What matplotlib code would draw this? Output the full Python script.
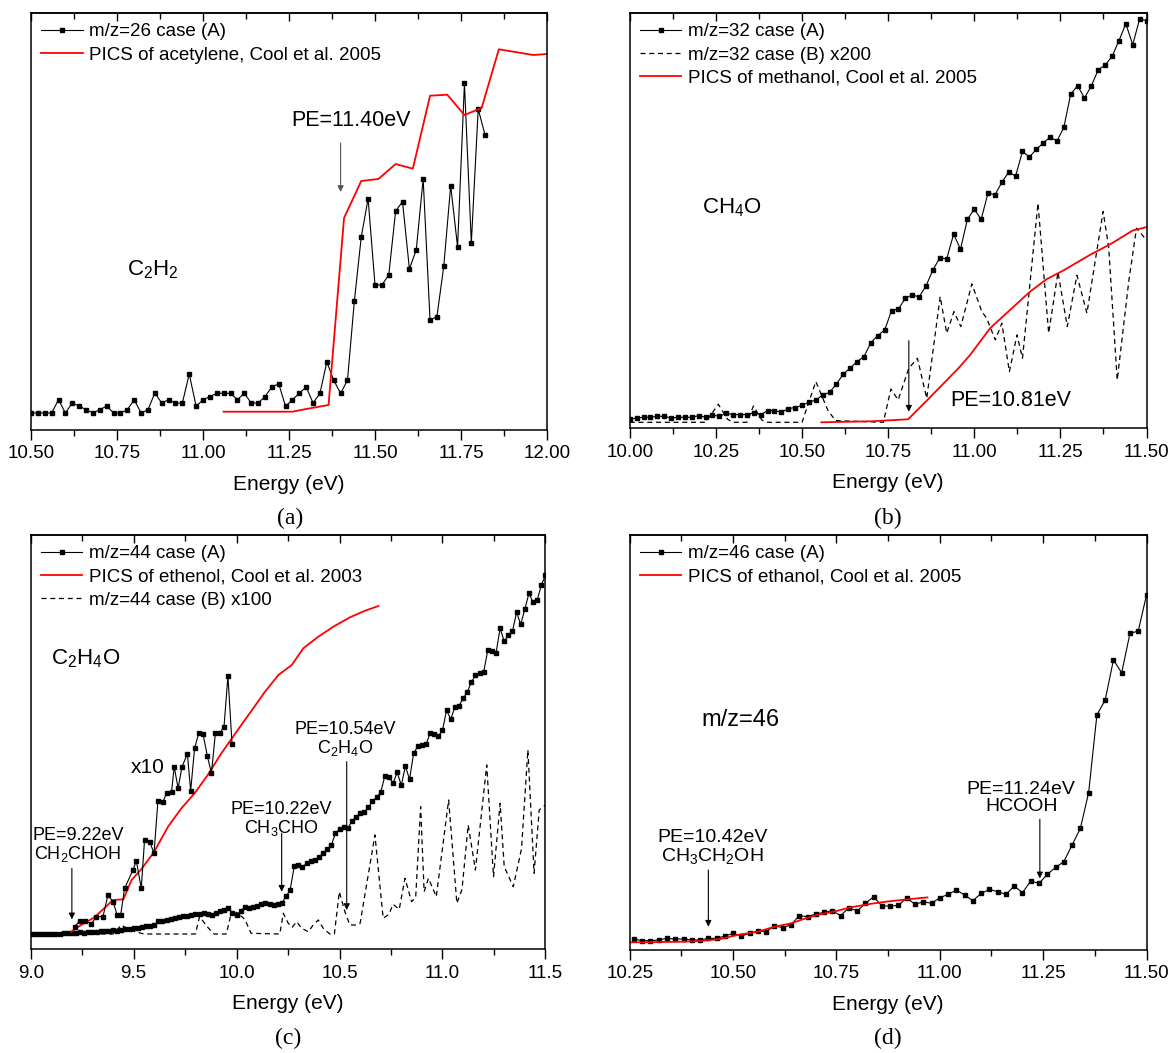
import numpy as np
import matplotlib
matplotlib.use("Agg")
import matplotlib.pyplot as plt
from matplotlib.ticker import MultipleLocator, FormatStrFormatter

plt.rcParams['font.family'] = ['Liberation Sans', 'DejaVu Sans']
plt.rcParams['mathtext.fontset'] = 'custom'
plt.rcParams['mathtext.rm'] = 'Liberation Sans'
plt.rcParams['mathtext.it'] = 'Liberation Sans:italic'

# ---------------- Panel (a): m/z=26 ----------------
a_start, a_step = 10.50, 0.02
a_caseA = [17, 17, 17, 17, 30.3, 17, 27, 24, 20.3, 17, 20.3, 24, 17, 17, 20.3, 30.3, 17, 20.3,
           37, 27, 30.3, 27, 27, 56, 23.7,
           30.3, 33.3, 36.7, 36.7, 36.7, 30.3, 36.7, 27, 27, 33.3, 43, 46.3, 23.7, 30.3, 36.7,
           43, 27, 36.7, 68, 49.7, 36.7, 49.7, 129, 193, 231.3, 145, 145, 155, 219, 228.3, 161,
           180.3, 251, 110, 113.3, 164, 244.3, 183.3, 346.7, 187, 321, 295]
a_pics_x = [11.06, 11.26, 11.30, 11.365, 11.41, 11.46, 11.51, 11.56, 11.61, 11.66, 11.71,
            11.76, 11.81, 11.86, 11.96, 12.00]
a_pics_y = [18.3, 18.3, 21, 25, 212, 249, 251, 266, 261.3, 334.3, 335.3, 315, 322, 380.7, 375, 376]

# ---------------- Panel (b): m/z=32 ----------------
b_start, b_step = 10.00, 0.02
b_caseA = [9, 10.3, 11, 11, 12, 12, 10.3, 11, 11, 11, 12.7, 11, 13.3, 12, 15, 13.7, 13.7, 13.7,
           15.7, 13.3, 17.7, 17.7, 16, 19.7, 20.7, 23, 26, 28.3, 33.3, 36, 44.3, 54.3, 60.3, 66.7,
           71.7, 85.7, 92.7, 98.3, 117.7, 119.3, 130, 133.3, 131.3, 142.3, 158.3, 170.3, 169.3,
           194, 179, 208.7, 219, 208.7, 235.3, 233.3, 245.7, 256, 252, 276.7, 271, 278.7, 285,
           291, 287, 300.7, 334, 342.3, 330, 342.3, 358.3, 363, 371.7, 387.3, 404.3, 383.3, 409,
           407.3]
b_caseB_x = [10.00, 10.22, 10.257, 10.284, 10.30, 10.34, 10.359, 10.383, 10.40, 10.50, 10.54,
             10.575, 10.597, 10.736, 10.758, 10.779, 10.81, 10.835, 10.862, 10.901, 10.920,
             10.941, 10.961, 10.993, 11.022, 11.036, 11.061, 11.080, 11.102, 11.124, 11.14,
             11.185, 11.216, 11.243, 11.270, 11.298, 11.327, 11.374, 11.39, 11.415, 11.449,
             11.471, 11.50]
b_caseB_y = [6, 6, 24, 9, 6, 6, 22.3, 8.3, 6, 6, 46.7, 18, 7.7, 6, 39.3, 28.3, 60, 70, 30,
             131.6, 95, 116.6, 101.6, 144.3, 116.6, 110, 88.3, 105, 56.6, 93.3, 70,
             225, 95, 156, 101.7, 153, 115, 216.7, 181.7, 48.3, 148.3, 200, 188]
b_pics_x = [10.556, 10.70, 10.808, 10.862, 10.954, 10.988, 11.046, 11.104, 11.162, 11.21,
            11.258, 11.336, 11.40, 11.46, 11.50]
b_pics_y = [6, 7, 9, 27.6, 60, 73.3, 100, 118.3, 136.6, 149, 157.6, 173.3, 185, 197.7, 201]

# ---------------- Panel (c): m/z=44 ----------------
c_start, c_step = 9.00, 0.02
c_caseA = [15, 15, 15, 15, 15.5, 15.5, 15.5, 15.5, 16, 16, 16,
           16.5, 17, 16.5, 17, 17.5, 17, 18, 18.5, 18, 19, 18.5, 19.5, 20.5, 20, 21,
           21.5, 22, 23, 23.5, 24, 28, 28.5, 29.5, 30.5, 31.5,
           32, 33, 33.5, 34, 35, 35.5, 36.5, 35, 34, 36.5,
           38, 39, 41, 36, 34.5, 38, 42.5, 41.5, 42, 43,
           45, 46, 45, 44.5, 45, 46, 53, 59, 83, 84,
           82, 86, 88, 89, 92, 96, 100, 104, 116, 120,
           122, 121, 128, 132, 136, 137, 142, 148, 152, 157,
           173, 172, 166, 177, 164, 183, 170, 196, 203, 204,
           205, 216, 215, 213, 219, 239, 230, 242, 243, 251,
           257, 267, 274, 276, 277, 299, 298, 296, 321, 308,
           314, 318, 337, 325, 340, 356, 347, 349, 364, 374]
c_x10_x = [9.214, 9.238, 9.262, 9.294, 9.319, 9.351, 9.375, 9.40, 9.42, 9.437, 9.456, 9.497,
           9.513, 9.537, 9.553, 9.578, 9.599, 9.618, 9.643, 9.66, 9.684, 9.697, 9.716, 9.735,
           9.761, 9.777, 9.796, 9.816, 9.837, 9.858, 9.878, 9.897, 9.918, 9.939, 9.958, 9.978]
c_x10_y = [22.6, 28.6, 28.6, 25.3, 32.6, 32.6, 54, 47.6, 34.3, 34.3, 61, 79.3, 88.6, 61, 109.3,
           107.6, 96, 148.6, 147.6, 156.6, 157, 182.6, 161, 182.6, 195.3, 158.6, 201, 216,
           215.3, 193.3, 176, 216, 216, 222.6, 273.3, 205]
c_pics_x = [9.197, 9.245, 9.31, 9.40, 9.45, 9.49, 9.537, 9.60, 9.667, 9.732, 9.796, 9.86,
            9.926, 10.017, 10.081, 10.138, 10.203, 10.268, 10.324, 10.397, 10.47, 10.551,
            10.624, 10.689]
c_pics_y = [17.6, 24.3, 32, 49.3, 50, 69.3, 80, 97.6, 122.6, 141, 156, 174.3, 196, 222.6,
            241, 257.6, 274.3, 284.3, 301, 312.6, 322.6, 332, 338.6, 343.3]
c_caseB_x = [9.00, 9.40, 9.44, 9.48, 9.55, 9.80, 9.82, 9.86, 9.89, 9.95, 9.97, 10.00, 10.04,
             10.07, 10.21, 10.227, 10.251, 10.27, 10.292, 10.316, 10.348, 10.375, 10.397,
             10.421, 10.453, 10.475, 10.499, 10.526, 10.55, 10.58, 10.60, 10.672, 10.712,
             10.74, 10.76, 10.79, 10.818, 10.85, 10.87, 10.894, 10.911, 10.932, 10.97, 11.03,
             11.07, 11.095, 11.125, 11.16, 11.215, 11.248, 11.28, 11.30, 11.344, 11.384,
             11.415, 11.445, 11.47, 11.50]
c_caseB_y = [15.3, 15.3, 24.3, 19.3, 15.3, 15.3, 32.6, 22, 15.3, 15.3, 32.6, 37, 30, 16, 15.3,
             36, 26, 22, 27.6, 21, 17.6, 25, 29.3, 21, 15.3, 15.3, 57.6, 37.6, 24.3, 24.3, 26,
             114.3, 31, 35, 45, 40, 71, 47.6, 52, 142.6, 57.6, 71, 52.6, 149.3, 46, 60, 124.3,
             79.3, 184.3, 72.6, 146, 82.6, 62.6, 100.6, 199.3, 76, 139.3, 144.3]

# ---------------- Panel (d): m/z=46 ----------------
d_start, d_step = 10.26, 0.02
d_caseA = [11, 9.3, 9.3, 10, 11.6, 11, 11, 10, 10, 11.6, 11.6, 14, 16.6, 14, 16.6, 19, 18.3,
           24.3, 22.3, 25.3, 34.3, 33.3, 36, 37.6, 39.3, 34.3, 42.3, 39, 46.6, 53.3, 44, 44,
           44.6, 52.3, 45.6, 48.3, 46.6,
           52.3, 55.6, 60, 55, 49.3, 56.6, 60.6, 58.3, 55.6, 64, 57.3, 69, 66.6, 75.6, 82.6,
           88.3, 105, 121.6, 157.3, 235, 250, 290, 277.3, 316.6, 319, 355]
d_pics_x = [10.25, 10.38, 10.42, 10.47, 10.51, 10.56, 10.60, 10.64, 10.675, 10.71, 10.75,
            10.78, 10.83, 10.87, 10.92, 10.97]
d_pics_y = [7.6, 8.3, 9, 11, 15, 18.3, 23.3, 26.6, 31.6, 35.6, 39, 42.3, 46, 48.3, 50.6, 52.6]


def grid(start, step, vals):
    return start + step * np.arange(len(vals))


W, H = 1172, 1053
fig = plt.figure(figsize=(W / 100, H / 100), dpi=100)


def make_ax(left, top, right, bottom):
    return fig.add_axes([left / W, 1 - bottom / H, (right - left) / W, (bottom - top) / H])


TICK_FS = 13.5
LAB_FS = 15
LEG_FS = 13.5
CAP_FS = 17


def style(ax, xlim, ylim, major, minor, fmt):
    ax.set_xlim(*xlim)
    ax.set_ylim(*ylim)
    ax.set_yticks([])
    ax.xaxis.set_major_locator(MultipleLocator(major))
    ax.xaxis.set_minor_locator(MultipleLocator(minor))
    ax.xaxis.set_major_formatter(FormatStrFormatter(fmt))
    ax.tick_params(axis='x', which='major', direction='out', length=7, width=1,
                   labelsize=TICK_FS, pad=4)
    ax.tick_params(axis='x', which='minor', direction='out', length=4, width=1)
    for s in ax.spines.values():
        s.set_linewidth(1.1)
    top = ax.secondary_xaxis('top')
    top.xaxis.set_major_locator(MultipleLocator(major))
    top.xaxis.set_minor_locator(MultipleLocator(minor))
    top.tick_params(axis='x', which='major', direction='in', length=6, width=1, labeltop=False)
    top.tick_params(axis='x', which='minor', direction='in', length=4, width=1)
    top.spines['top'].set_linewidth(1.1)
    ax.set_xlabel('Energy (eV)', fontsize=LAB_FS, labelpad=9)


def legend(ax):
    ax.legend(loc='upper left', frameon=False, fontsize=LEG_FS, handlelength=2.2,
              handletextpad=0.35, labelspacing=0.32, borderaxespad=0.25, borderpad=0.3,
              numpoints=1)


def arrow(ax, x, y0, y1, color='k'):
    ax.annotate('', xy=(x, y1), xytext=(x, y0),
                arrowprops=dict(arrowstyle='-|>', color=color, lw=0.8, mutation_scale=9,
                                shrinkA=0, shrinkB=0))


def caption(x, y, s):
    fig.text(x / W, 1 - y / H, s, fontsize=CAP_FS, family=['Liberation Serif', 'DejaVu Serif'],
             ha='center', va='center')


blk = dict(color='black', lw=0.8, marker='s', ms=3.3, mfc='black', mec='black')
red = dict(color='#ff0000', lw=1.3)
dash = dict(color='black', lw=0.9, ls=(0, (4, 3)))

# ---- (a)
ax = make_ax(31, 13, 547, 430)
ax.plot(grid(a_start, a_step, a_caseA), a_caseA, label='m/z=26 case (A)', **blk)
ax.plot(a_pics_x, a_pics_y, label='PICS of acetylene, Cool et al. 2005', **red)
style(ax, (10.5, 12.0), (0, 417), 0.25, 0.125, '%.2f')
legend(ax)
ax.text(11.43, 310, 'PE=11.40eV', fontsize=15.5, ha='center', va='center')
arrow(ax, 11.40, 287, 238, color='#555555')
ax.text(10.855, 160, r'$\mathregular{C_2H_2}$', fontsize=16, ha='center', va='center')
caption(290, 518, '(a)')

# ---- (b)
ax = make_ax(629.8, 13, 1146.5, 428.3)
ax.plot(grid(b_start, b_step, b_caseA), b_caseA, label='m/z=32 case (A)', **blk)
ax.plot(b_caseB_x, b_caseB_y, label='m/z=32 case (B) x200', **dash)
ax.plot(b_pics_x, b_pics_y, label='PICS of methanol, Cool et al. 2005', **red)
style(ax, (10.0, 11.5), (0, 415), 0.25, 0.125, '%.2f')
legend(ax)
ax.text(10.296, 220, r'$\mathregular{CH_4O}$', fontsize=16, ha='center', va='center')
ax.text(11.107, 28, 'PE=10.81eV', fontsize=15.5, ha='center', va='center')
arrow(ax, 10.81, 87.6, 16.6)
caption(888, 518, '(b)')

# ---- (c)
ax = make_ax(30.7, 535, 545.4, 949.3)
ax.plot(grid(c_start, c_step, c_caseA), c_caseA, label='m/z=44 case (A)', **blk)
ax.plot(c_pics_x, c_pics_y, label='PICS of ethenol, Cool et al. 2003', **red)
ax.plot(c_caseB_x, c_caseB_y, label='m/z=44 case (B) x100', **dash)
ax.plot(c_x10_x, c_x10_y, **blk)
style(ax, (9.0, 11.5), (0, 414.3), 0.5, 0.25, '%.1f')
legend(ax)
ax.text(9.269, 291, r'$\mathregular{C_2H_4O}$', fontsize=16, ha='center', va='center')
ax.text(9.57, 182, 'x10', fontsize=15, ha='center', va='center')
ax.text(9.23, 104, 'PE=9.22eV\n' + r'$\mathregular{CH_2CHOH}$', fontsize=13, ha='center',
        va='center', linespacing=1.0)
arrow(ax, 9.20, 81, 30)
ax.text(10.219, 130, 'PE=10.22eV\n' + r'$\mathregular{CH_3CHO}$', fontsize=13, ha='center',
        va='center', linespacing=1.0)
arrow(ax, 10.219, 116, 57.6)
ax.text(10.527, 210, 'PE=10.54eV\n' + r'$\mathregular{C_2H_4O}$', fontsize=13, ha='center',
        va='center', linespacing=1.0)
arrow(ax, 10.535, 187.6, 39.3)
caption(288, 1038, '(c)')

# ---- (d)
ax = make_ax(629.8, 535, 1146.5, 950)
ax.plot(grid(d_start, d_step, d_caseA), d_caseA, label='m/z=46 case (A)', **blk)
ax.plot(d_pics_x, d_pics_y, label='PICS of ethanol, Cool et al. 2005', **red)
style(ax, (10.25, 11.5), (0, 415), 0.25, 0.125, '%.2f')
legend(ax)
ax.text(10.518, 230, 'm/z=46', fontsize=17, ha='center', va='center')
ax.text(10.45, 102.5, 'PE=10.42eV\n' + r'$\mathregular{CH_3CH_2OH}$', fontsize=14,
        ha='center', va='center', linespacing=1.0)
arrow(ax, 10.44, 80, 23.3)
ax.text(11.197, 152, 'PE=11.24eV\nHCOOH', fontsize=14, ha='center', va='center',
        linespacing=1.0)
arrow(ax, 11.242, 130.7, 71.6)
caption(888, 1038, '(d)')

fig.savefig('out.png', dpi=100)
